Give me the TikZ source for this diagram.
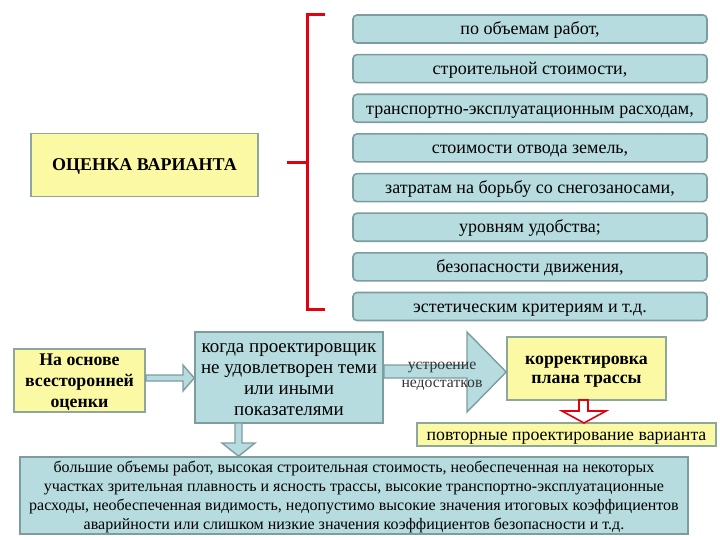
\documentclass[tikz,border=0pt]{standalone}
\usepackage{fontspec}
\setmainfont{Liberation Serif}
\usetikzlibrary{calc}
\definecolor{yfill}{HTML}{FBF9A4}
\definecolor{yline}{HTML}{8DA79B}
\definecolor{bfill}{HTML}{B6DCDF}
\definecolor{bline}{HTML}{7D9C9D}
\definecolor{rline}{HTML}{E3000F}
\newcommand\lsx{\rule[-0.2em]{0pt}{1.05em}}
\tikzset{
  ybox/.style={draw=yline, line width=1.6pt, fill=yfill, inner sep=0pt, align=center},
  bbox/.style={draw=bline, line width=1.6pt, fill=bfill, inner sep=0pt, align=center},
  item/.style={bbox, rounded corners=4pt, minimum width=354pt, minimum height=28pt, font=\fontsize{18}{20}\selectfont},
  barrow/.style={draw=bline, line width=1.4pt, fill=bfill, line join=miter},
  rarrow/.style={draw=rline, line width=1.6pt, fill=white},
  bracket/.style={draw=rline, line width=3pt}
}
\begin{document}
\begin{tikzpicture}[x=1pt,y=-1pt]
\useasboundingbox (0,0) rectangle (720,540);
% top part
\node[ybox, minimum width=227pt, minimum height=63pt, font=\fontsize{18}{20}\selectfont\bfseries] (ocenka) at (144.5,165) {\lsx ОЦЕНКА ВАРИАНТА};
\node[item] (i1) at (530,29.0) {\lsx по объемам работ,};
\node[item] (i2) at (530,68.6) {\lsx строительной стоимости,};
\node[item] (i3) at (530,108.3) {\lsx транспортно-эксплуатационным расходам,};
\node[item] (i4) at (530,147.9) {\lsx стоимости отвода земель,};
\node[item] (i5) at (530,187.6) {\lsx затратам на борьбу со снегозаносами,};
\node[item] (i6) at (530,227.2) {\lsx уровням удобства;};
\node[item] (i7) at (530,266.8) {\lsx безопасности движения,};
\node[item] (i8) at (530,306.5) {\lsx эстетическим критериям и т.д.};
% bracket
\coordinate (bt) at (325,15);
\coordinate (bb) at (325,309);
\coordinate (bm) at (287,163);
\draw[bracket] (bt) -- (307,15) -- (307,309) -- (bb);
\draw[bracket] (bm) -- (307,163);
% bottom part
\node[ybox, minimum width=131pt, minimum height=63pt, font=\fontsize{17.8}{21}\selectfont\bfseries] (osn) at (79.5,380.5) {\lsx На основе\\\lsx всесторонней\\\lsx оценки};
\node[bbox, minimum width=188pt, minimum height=91pt, font=\fontsize{19}{21}\selectfont] (kogda) at (289,377.5) {\lsx когда проектировщик\\\lsx не удовлетворен теми\\\lsx или иными\\\lsx показателями};
\node[bbox, minimum width=668pt, minimum height=77pt, font=\fontsize{16}{19}\selectfont] (big) at (354,495.5) {\lsx большие объемы работ, высокая строительная стоимость, необеспеченная на некоторых\\\lsx участках зрительная плавность и ясность трассы, высокие транспортно-эксплуатационные\\\lsx расходы, необеспеченная видимость, недопустимо высокие значения итоговых коэффициентов\\\lsx аварийности или слишком низкие значения коэффициентов безопасности и т.д.};
\node[ybox, minimum width=159pt, minimum height=63pt, font=\fontsize{17.8}{19.5}\selectfont\bfseries] (korr) at (586.5,368.5) {\lsx корректировка\\\lsx плана трассы};
\node[ybox, minimum width=299pt, minimum height=23pt, font=\fontsize{17.8}{20}\selectfont] (povt) at (566.5,434.5) {\lsx повторные проектирование варианта};
% arrow osn -> kogda
\draw[barrow] (osn.east |- 0,375) -- (183,375) -- (183,365) -- (kogda.west |- 0,378) -- (183,391) -- (183,381) -- (osn.east |- 0,381) -- cycle;
% arrow kogda -> big
\draw[barrow] (235,423) -- (235,443) -- (222,443) -- (big.north -| 238.5,0) -- (255,443) -- (242,443) -- (242,423) -- cycle;
% big arrow kogda -> korr
\draw[barrow] (kogda.east |- 0,365) -- (467,365) -- (467,332) -- (korr.west |- 0,372) -- (467,412) -- (467,378) -- (kogda.east |- 0,378) -- cycle;
\node[font=\fontsize{15.7}{18}\selectfont, text=black!80, align=center, inner sep=0pt] (ust) at (442,373) {\lsx устроение\\\lsx недостатков};
% red arrow korr -> povt
\draw[rarrow] (579,400) -- (579,411) -- (562,411) -- (584,423) -- (606,411) -- (588,411) -- (588,400) -- cycle;
\end{tikzpicture}
\end{document}
